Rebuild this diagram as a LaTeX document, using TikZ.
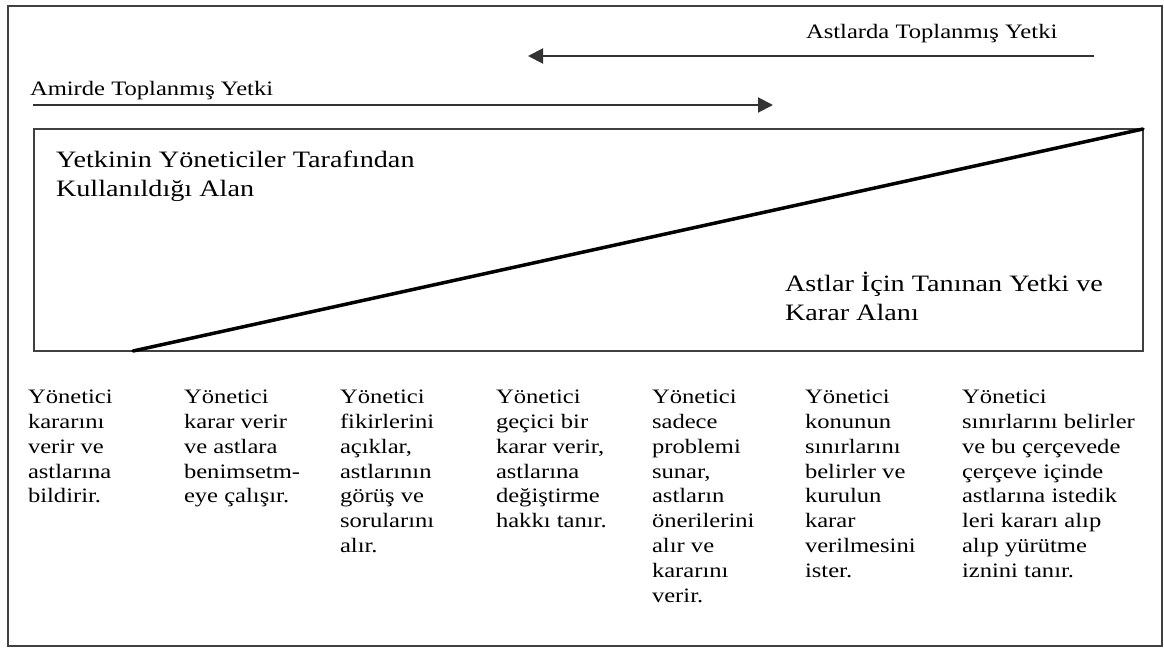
\documentclass[tikz,border=0pt]{standalone}
\usepackage{fontspec}
\setmainfont{Liberation Serif}[FakeStretch=1.2]
\usetikzlibrary{arrows.meta}

% text sizes: column and arrow labels, area labels
\newcommand\colfont{\fontsize{20.5}{24.85}\selectfont}
\newcommand\areafont{\fontsize{23.5}{29.5}\selectfont}
% a left-aligned stack of lines whose baseline is the first line
\newcommand\linestack[1]{\begin{tabular}[t]{@{}l@{}}#1\end{tabular}}

\tikzset{
  frameline/.style={draw=black!75, line width=2pt},
  flowarrow/.style={draw=black!80, line width=2pt, -{Triangle[length=15pt,width=15pt]}},
  divider/.style={draw=black, line width=3.5pt},
  label/.style={anchor=base west, inner sep=0pt, outer sep=0pt, font=\colfont},
  arealabel/.style={anchor=base west, inner sep=0pt, outer sep=0pt, font=\areafont},
  colnote/.style={anchor=base west, inner sep=0pt, outer sep=0pt, font=\colfont},
}

\begin{document}
\begin{tikzpicture}[x=1pt, y=-1pt]
  \useasboundingbox (0,0) rectangle (1164,648);

  % outer frame
  \draw[frameline] (8,6) rectangle (1162,646);

  % authority held by subordinates (right to left)
  \node[label] (tsub) at (806,38) {Astlarda Toplanmış Yetki};
  \coordinate (subS) at (1094,56);
  \coordinate (subE) at (528,56);
  \draw[flowarrow] (subS) -- (subE);

  % authority held by the manager (left to right)
  \node[label] (tsup) at (30,95) {Amirde Toplanmış Yetki};
  \coordinate (supS) at (33,105);
  \coordinate (supE) at (773,105);
  \draw[flowarrow] (supS) -- (supE);

  % area box split by the diagonal
  \node[frameline, anchor=north west, inner sep=0pt, outer sep=0pt,
        minimum width=1109pt, minimum height=222pt] (box) at (34,129) {};
  \coordinate (diagS) at (133,351);
  \draw[divider, line cap=round] (diagS) -- (box.north east);

  \node[arealabel] (mgrArea) at (56,167)
    {\linestack{Yetkinin Yöneticiler Tarafından\\Kullanıldığı Alan}};
  \node[arealabel] (subArea) at (785,291)
    {\linestack{Astlar İçin Tanınan Yetki ve\\Karar Alanı}};

  % leadership styles, one column each
  \node[colnote] (c1) at (28,403.5)
    {\linestack{Yönetici\\kararını\\verir ve\\astlarına\\bildirir.}};
  \node[colnote] (c2) at (184,403.5)
    {\linestack{Yönetici\\karar verir\\ve astlara\\benimsetm-\\eye çalışır.}};
  \node[colnote] (c3) at (340,403.5)
    {\linestack{Yönetici\\fikirlerini\\açıklar,\\astlarının\\görüş ve\\sorularını\\alır.}};
  \node[colnote] (c4) at (496,403.5)
    {\linestack{Yönetici\\geçici bir\\karar verir,\\astlarına\\değiştirme\\hakkı tanır.}};
  \node[colnote] (c5) at (652,403.5)
    {\linestack{Yönetici\\sadece\\problemi\\sunar,\\astların\\önerilerini\\alır ve\\kararını\\verir.}};
  \node[colnote] (c6) at (805,403.5)
    {\linestack{Yönetici\\konunun\\sınırlarını\\belirler ve\\kurulun\\karar\\verilmesini\\ister.}};
  \node[colnote] (c7) at (962,403.5)
    {\linestack{Yönetici\\sınırlarını belirler\\ve bu çerçevede\\çerçeve içinde\\astlarına istedik\\leri kararı alıp\\alıp yürütme\\iznini tanır.}};
\end{tikzpicture}
\end{document}
